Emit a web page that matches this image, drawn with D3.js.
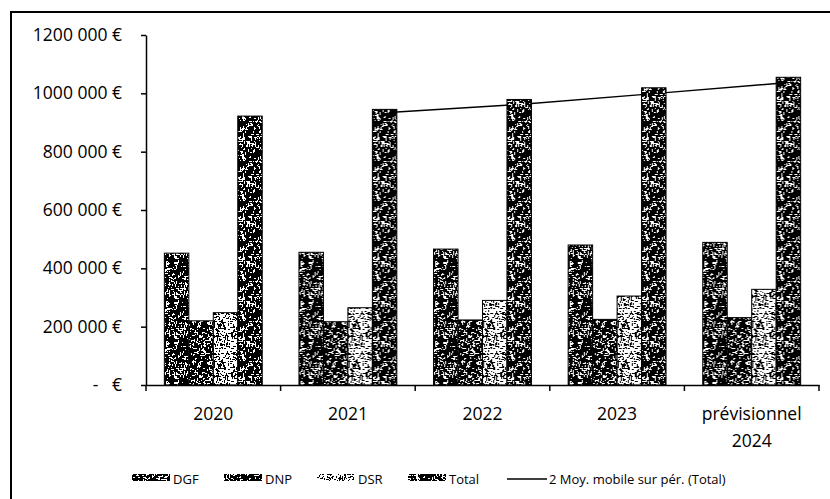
<!DOCTYPE html>
<html lang="fr">
<head>
<meta charset="utf-8">
<script src="https://cdn.jsdelivr.net/npm/d3@7"></script>
<style>
  html, body { margin: 0; padding: 0; background: #fff; }
  svg { display: block; }
  text { font-family: "Open Sans", "Noto Sans", sans-serif; fill: #000; }
</style>
</head>
<body>
<svg id="chart" width="830" height="499"></svg>
<script>
// Dotations de l'État (DGF, DNP, DSR) et total, par exercice
const categories = ["2020", "2021", "2022", "2023", "prévisionnel 2024"];
const categoryLines = [["2020"], ["2021"], ["2022"], ["2023"], ["prévisionnel", "2024"]];
const seriesNames = ["DGF", "DNP", "DSR", "Total"];
const dgf   = [452000, 455000, 466000, 480000, 489000];
const dnp   = [220000, 217000, 223000, 225000, 231000];
const dsr   = [248000, 265000, 290000, 305000, 328000];
const total = [922000, 945000, 979000, 1019000, 1055000];
const yTicks = [0, 200000, 400000, 600000, 800000, 1000000, 1200000];
const yTickLabels = ["-   €", "200 000 €", "400 000 €", "600 000 €", "800 000 €", "1000 000 €", "1200 000 €"];
const trendLabel = "2 Moy. mobile sur pér. (Total)";
const trendPeriod = 2;

const seriesValues = { DGF: dgf, DNP: dnp, DSR: dsr, Total: total };

const svg = d3.select("#chart");

// Frame of the chart area (top and left edges)
svg.append("line").attr("x1", 10).attr("x2", 830).attr("y1", 12).attr("y2", 12)
  .attr("stroke", "#000").attr("stroke-width", 2);
svg.append("line").attr("x1", 11).attr("x2", 11).attr("y1", 12).attr("y2", 499)
  .attr("stroke", "#000").attr("stroke-width", 2);

// Speckled fills (deterministic grain per series)
const defs = svg.append("defs");
function speckle(id, seed, bg, fg, count) {
  const rnd = d3.randomLcg(seed);
  const size = 40;
  const p = defs.append("pattern").attr("id", id)
    .attr("patternUnits", "userSpaceOnUse").attr("width", size).attr("height", size);
  p.append("rect").attr("width", size).attr("height", size).attr("fill", bg);
  for (let i = 0; i < count; i++) {
    const horiz = rnd() < 0.5;
    const len = 1 + Math.floor(rnd() * 3);
    p.append("rect")
      .attr("x", Math.floor(rnd() * size)).attr("y", Math.floor(rnd() * size))
      .attr("width", horiz ? len : 1).attr("height", horiz ? 1 : len)
      .attr("fill", fg);
  }
}
speckle("fill-DGF", 0.11, "#000", "#fff", 230);
speckle("fill-DNP", 0.37, "#000", "#fff", 250);
speckle("fill-DSR", 0.59, "#fff", "#000", 330);
speckle("fill-Total", 0.83, "#000", "#fff", 240);

// Scales
const x = d3.scaleBand().domain(categories).range([146, 819]).paddingInner(0).paddingOuter(0);
const xSub = d3.scaleBand().domain(seriesNames).range([0, x.bandwidth()])
  .paddingInner(0).paddingOuter(0.75);
const y = d3.scaleLinear().domain([0, 1200000]).range([385, 35]);

// Y axis
const yAxis = d3.axisLeft(y).tickValues(yTicks)
  .tickFormat((d, i) => yTickLabels[i]).tickSizeInner(5).tickSizeOuter(0).tickPadding(19);
const gy = svg.append("g").attr("transform", "translate(146,0)").call(yAxis);
gy.select(".domain").attr("stroke", "#000").attr("stroke-width", 1.5);
gy.selectAll(".tick line").attr("stroke", "#000").attr("stroke-width", 1.5);
gy.selectAll(".tick text").attr("font-size", 17.5).attr("fill", "#000")
  .style("white-space", "pre").attr("font-family", "\"Open Sans\", sans-serif");

// Moving-average trendline of the total, drawn behind the bars
const trend = d3.range(trendPeriod - 1, categories.length).map(i => ({
  cat: categories[i],
  value: d3.mean(total.slice(i - trendPeriod + 1, i + 1))
}));
const line = d3.line()
  .x(d => x(d.cat) + xSub("Total") + xSub.bandwidth() / 2)
  .y(d => y(d.value));
svg.append("path").datum(trend).attr("d", line)
  .attr("fill", "none").attr("stroke", "#000").attr("stroke-width", 1.5);

// Bars
const groups = svg.append("g").selectAll("g").data(categories).join("g")
  .attr("transform", d => `translate(${x(d)},0)`);
groups.selectAll("rect")
  .data((c, ci) => seriesNames.map(s => ({ s, v: seriesValues[s][ci] })))
  .join("rect")
  .attr("x", d => xSub(d.s))
  .attr("width", xSub.bandwidth())
  .attr("y", d => y(d.v))
  .attr("height", d => y(0) - y(d.v))
  .attr("fill", d => `url(#fill-${d.s})`)
  .attr("stroke", "#000").attr("stroke-width", 1);

// X axis
const xAxis = d3.axisBottom(x).tickFormat("").tickSize(0).tickSizeOuter(0);
const gx = svg.append("g").attr("transform", "translate(0,385)").call(xAxis);
gx.select(".domain").attr("stroke", "#000").attr("stroke-width", 1.5);
// category boundary ticks
const bounds = categories.map(c => x(c)).concat([x.range()[1]]);
gx.selectAll("line.bound").data(bounds).join("line").attr("class", "bound")
  .attr("x1", d => d).attr("x2", d => d).attr("y1", 0).attr("y2", 6)
  .attr("stroke", "#000").attr("stroke-width", 1.5);
// category labels
categories.forEach((c, i) => {
  const t = svg.append("text")
    .attr("x", x(c) + x.bandwidth() / 2).attr("y", 420)
    .attr("text-anchor", "middle").attr("font-size", 17.5);
  categoryLines[i].forEach((ln, j) => {
    t.append("tspan").attr("x", x(c) + x.bandwidth() / 2).attr("dy", j === 0 ? 0 : 27).text(ln);
  });
});

// Legend
const legendY = 477;
const legendItems = [
  { key: "DGF", x: 132 },
  { key: "DNP", x: 224 },
  { key: "DSR", x: 317 },
  { key: "Total", x: 408 }
];
const lg = svg.append("g");
legendItems.forEach(it => {
  lg.append("rect").attr("x", it.x).attr("y", legendY - 3).attr("width", 38).attr("height", 7)
    .attr("fill", `url(#fill-${it.key})`);
  lg.append("text").attr("x", it.x + 41).attr("y", legendY + 7)
    .attr("font-size", 13).text(it.key);
});
lg.append("line").attr("x1", 507).attr("x2", 547).attr("y1", legendY + 2).attr("y2", legendY + 2)
  .attr("stroke", "#000").attr("stroke-width", 1.5);
lg.append("text").attr("x", 549).attr("y", legendY + 7).attr("font-size", 13).text(trendLabel);
</script>
</body>
</html>
